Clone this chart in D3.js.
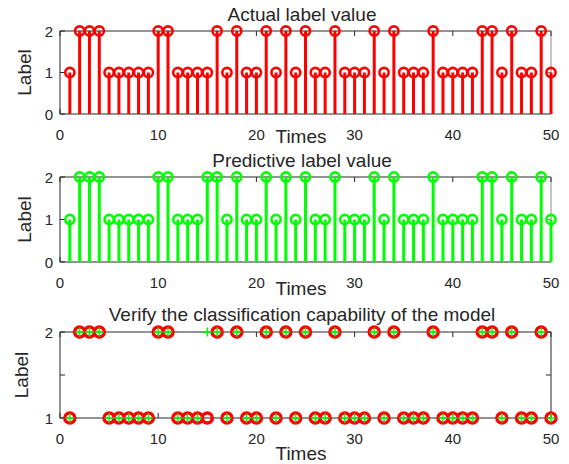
<!DOCTYPE html>
<html>
<head>
<meta charset="utf-8">
<script src="https://cdn.jsdelivr.net/npm/d3@7"></script>
<style>
  body { margin: 0; background: #fff; }
  text { font-family: "Liberation Sans", Arial, Helvetica, sans-serif; fill: #262626; }
</style>
</head>
<body>
<div id="chart"></div>
<script>
// sample index
var times = [1, 2, 3, 4, 5, 6, 7, 8, 9, 10, 11, 12, 13, 14, 15, 16, 17, 18, 19, 20,
    21, 22, 23, 24, 25, 26, 27, 28, 29, 30, 31, 32, 33, 34, 35, 36, 37, 38, 39, 40,
    41, 42, 43, 44, 45, 46, 47, 48, 49, 50];
// actual label
var actualLabel = [1, 2, 2, 2, 1, 1, 1, 1, 1, 2, 2, 1, 1, 1, 1, 2, 1, 2, 1, 1,
    2, 1, 2, 1, 2, 1, 1, 2, 1, 1, 1, 2, 1, 2, 1, 1, 1, 2, 1, 1,
    1, 1, 2, 2, 1, 2, 1, 1, 2, 1];
// predictive label
var predictLabel = [1, 2, 2, 2, 1, 1, 1, 1, 1, 2, 2, 1, 1, 1, 2, 2, 1, 2, 1, 1,
    2, 1, 2, 1, 2, 1, 1, 2, 1, 1, 1, 2, 1, 2, 1, 1, 1, 2, 1, 1,
    1, 1, 2, 2, 1, 2, 1, 1, 2, 1];
var xTicks = [0, 10, 20, 30, 40, 50];
var titles = ["Actual label value", "Predictive label value", "Verify the classification capability of the model"];

const width = 569, height = 464;
const svg = d3.select("#chart").append("svg")
    .attr("width", width)
    .attr("height", height);

const x = d3.scaleLinear().domain([0, 50]).range([60, 551]);
const axisColor = "#262626";

function drawAxes(y, yTicks, yLabels, rightColor) {
    const g = svg.append("g");
    const y0 = y.range()[0], y1 = y.range()[1];
    // box
    g.append("line").attr("x1", x(0)).attr("x2", x(50)).attr("y1", y1).attr("y2", y1)
        .attr("stroke", axisColor).attr("stroke-width", 1);
    g.append("line").attr("x1", x(0)).attr("x2", x(50)).attr("y1", y0).attr("y2", y0)
        .attr("stroke", axisColor).attr("stroke-width", 1);
    g.append("line").attr("x1", x(0)).attr("x2", x(0)).attr("y1", y0).attr("y2", y1)
        .attr("stroke", axisColor).attr("stroke-width", 1);
    g.append("line").attr("x1", x(50)).attr("x2", x(50)).attr("y1", y0).attr("y2", y1)
        .attr("stroke", rightColor).attr("stroke-width", 1);
    // x ticks (inside, bottom and top)
    xTicks.forEach(function (t) {
        g.append("line").attr("x1", x(t)).attr("x2", x(t)).attr("y1", y0).attr("y2", y0 - 5)
            .attr("stroke", axisColor);
        g.append("line").attr("x1", x(t)).attr("x2", x(t)).attr("y1", y1).attr("y2", y1 + 5)
            .attr("stroke", axisColor);
        g.append("text").attr("x", x(t)).attr("y", y0 + 26)
            .attr("text-anchor", "middle").attr("font-size", "15px").text(t);
    });
    // y ticks
    yTicks.forEach(function (t, i) {
        g.append("line").attr("x1", x(0)).attr("x2", x(0) + 5).attr("y1", y(t)).attr("y2", y(t))
            .attr("stroke", axisColor);
        g.append("line").attr("x1", x(50)).attr("x2", x(50) - 5).attr("y1", y(t)).attr("y2", y(t))
            .attr("stroke", rightColor);
        if (yLabels[i] !== "") {
            g.append("text").attr("x", x(0) - 7).attr("y", y(t) + 5.5)
                .attr("text-anchor", "end").attr("font-size", "15px").text(yLabels[i]);
        }
    });
    return g;
}

function labels(y, title, titleY, timesY, labelX) {
    const y0 = y.range()[0], y1 = y.range()[1];
    svg.append("text").attr("x", 302).attr("y", titleY).attr("text-anchor", "middle")
        .attr("font-size", "19px").attr("fill", "#000").text(title);
    svg.append("text").attr("x", 301).attr("y", timesY).attr("text-anchor", "middle")
        .attr("font-size", "19px").text("Times");
    svg.append("text")
        .attr("transform", "translate(" + labelX + "," + ((y0 + y1) / 2) + ") rotate(-90)")
        .attr("text-anchor", "middle").attr("font-size", "19px").text("Label");
}

function stemPlot(data, y, color) {
    const g = svg.append("g");
    g.selectAll(".stem").data(data).enter().append("line")
        .attr("x1", (d, i) => x(times[i])).attr("x2", (d, i) => x(times[i]))
        .attr("y1", y(0)).attr("y2", d => y(d))
        .attr("stroke", color).attr("stroke-width", 3);
    g.selectAll(".mark").data(data).enter().append("circle")
        .attr("cx", (d, i) => x(times[i])).attr("cy", d => y(d))
        .attr("r", 4.6).attr("fill", "none")
        .attr("stroke", color).attr("stroke-width", 2.6);
}

// 第一幅图：实际标签
const y1 = d3.scaleLinear().domain([0, 2]).range([114, 31]);
drawAxes(y1, [0, 1, 2], ["0", "1", "2"], "#8c8c8c");
stemPlot(actualLabel, y1, "#ff0000");
labels(y1, titles[0], 21, 143, 31);

// 第二幅图：预测标签
const y2 = d3.scaleLinear().domain([0, 2]).range([262, 177]);
drawAxes(y2, [0, 1, 2], ["0", "1", "2"], "#8c8c8c");
stemPlot(predictLabel, y2, "#00ff00");
labels(y2, titles[1], 167, 295, 31);

// 第三幅图：对比
const y3 = d3.scaleLinear().domain([1, 2]).range([418, 332]);
drawAxes(y3, [1, 1.5, 2], ["1", "", "2"], axisColor);
const g3 = svg.append("g");
g3.selectAll(".actual").data(actualLabel).enter().append("circle")
    .attr("cx", (d, i) => x(times[i])).attr("cy", d => y3(d))
    .attr("r", 5).attr("fill", "none")
    .attr("stroke", "#ff0000").attr("stroke-width", 3.5);
const plus = 4.5;
g3.selectAll(".ph").data(predictLabel).enter().append("line")
    .attr("x1", (d, i) => x(times[i]) - plus).attr("x2", (d, i) => x(times[i]) + plus)
    .attr("y1", d => y3(d)).attr("y2", d => y3(d))
    .attr("stroke", "#00ff00").attr("stroke-width", 1.5);
g3.selectAll(".pv").data(predictLabel).enter().append("line")
    .attr("x1", (d, i) => x(times[i])).attr("x2", (d, i) => x(times[i]))
    .attr("y1", d => y3(d) - plus).attr("y2", d => y3(d) + plus)
    .attr("stroke", "#00ff00").attr("stroke-width", 1.5);
labels(y3, titles[2], 321, 460, 28);
</script>
</body>
</html>
